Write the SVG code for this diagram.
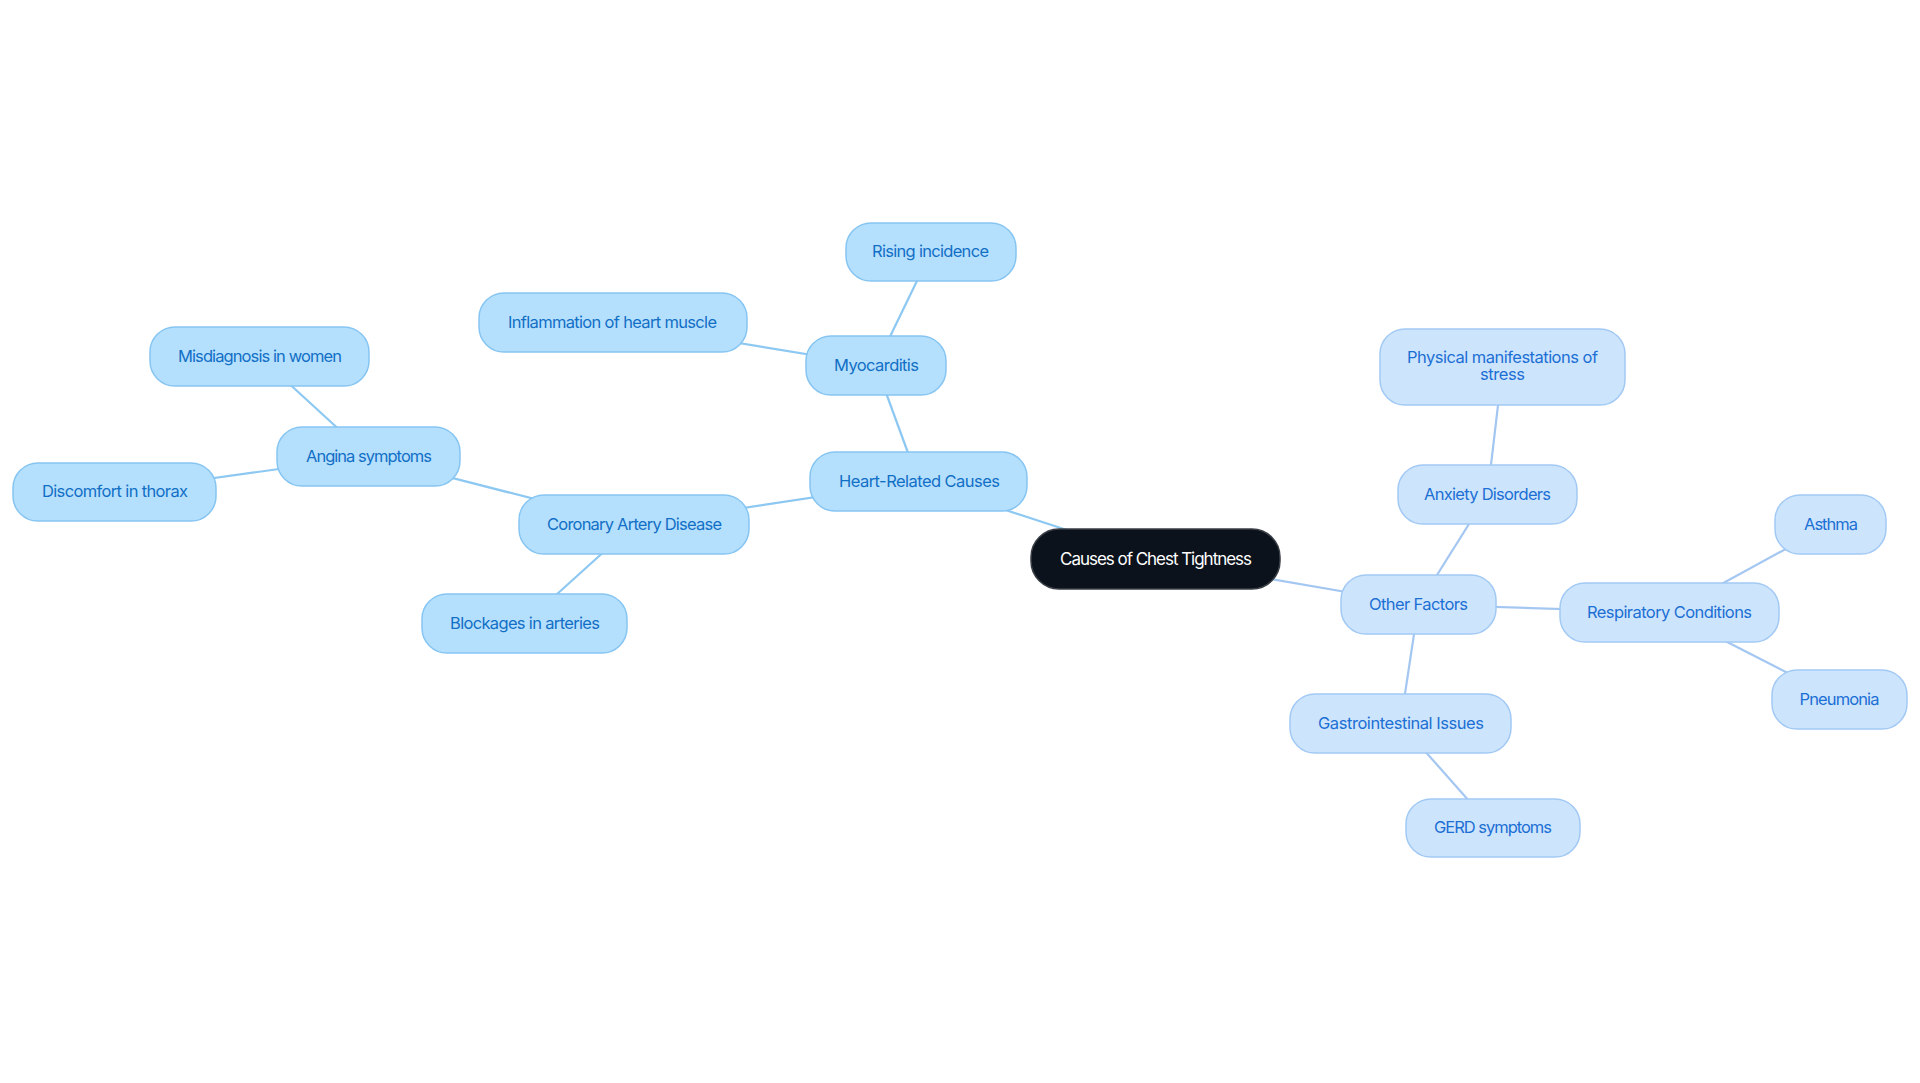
<svg xmlns="http://www.w3.org/2000/svg" width="1920" height="1083" viewBox="0 0 1920 1083">
<style>
.bg{fill:#ffffff}
.l rect{fill:#b5e0fd;stroke:#86c5f2;stroke-width:1.5}
.l text{fill:#126fc6}
.r rect{fill:#cde5fc;stroke:#a2c9f4;stroke-width:1.5}
.r text{fill:#1c6fd4}
.root rect{fill:#0c121c;stroke:#3a3f47;stroke-width:1.5}
.root text{fill:#ffffff}
text{font-family:Inter,"Noto Sans","Liberation Sans",sans-serif;font-size:16.5px;text-anchor:middle}
.root text{font-size:17px}
.el{stroke:#8cc8f2;stroke-width:2.2;fill:none}
.er{stroke:#a4c7f2;stroke-width:2.2;fill:none}
</style>
<rect class="bg" x="0" y="0" width="1920" height="1083"/>
<g id="connectors">
<line class="el" x1="1155.5" y1="559" x2="918.5" y2="481.5"/>
<line class="el" x1="918.5" y1="481.5" x2="876" y2="365.5"/>
<line class="el" x1="876" y1="365.5" x2="931" y2="252"/>
<line class="el" x1="876" y1="365.5" x2="613" y2="322.5"/>
<line class="el" x1="918.5" y1="481.5" x2="634" y2="524.5"/>
<line class="el" x1="634" y1="524.5" x2="524.5" y2="623.5"/>
<line class="el" x1="634" y1="524.5" x2="368.5" y2="456.5"/>
<line class="el" x1="368.5" y1="456.5" x2="259.5" y2="356.5"/>
<line class="el" x1="368.5" y1="456.5" x2="114.5" y2="492"/>
<line class="er" x1="1155.5" y1="559" x2="1418.5" y2="604.5"/>
<line class="er" x1="1418.5" y1="604.5" x2="1487.5" y2="494.5"/>
<line class="er" x1="1487.5" y1="494.5" x2="1502.5" y2="367"/>
<line class="er" x1="1418.5" y1="604.5" x2="1669.5" y2="612.5"/>
<line class="er" x1="1669.5" y1="612.5" x2="1830.5" y2="524.5"/>
<line class="er" x1="1669.5" y1="612.5" x2="1839.5" y2="699.5"/>
<line class="er" x1="1418.5" y1="604.5" x2="1400.5" y2="723.5"/>
<line class="er" x1="1400.5" y1="723.5" x2="1493" y2="828"/>
</g>
<g id="root" class="root"><rect x="1031" y="529" width="249" height="60" rx="28"/><text x="1156" y="564.5" textLength="192" lengthAdjust="spacing">Causes of Chest Tightness</text></g>
<g id="heart" class="l"><rect x="810" y="452" width="217" height="59" rx="25"/><text x="919.5" y="486.5" textLength="161" lengthAdjust="spacing">Heart-Related Causes</text></g>
<g id="myocarditis" class="l"><rect x="806" y="336" width="140" height="59" rx="25"/><text x="876.5" y="370.5" textLength="85" lengthAdjust="spacing">Myocarditis</text></g>
<g id="rising" class="l"><rect x="846" y="223" width="170" height="58" rx="25"/><text x="930.5" y="257" textLength="117" lengthAdjust="spacing">Rising incidence</text></g>
<g id="inflammation" class="l"><rect x="479" y="293" width="268" height="59" rx="25"/><text x="612.5" y="327.5" textLength="209" lengthAdjust="spacing">Inflammation of heart muscle</text></g>
<g id="cad" class="l"><rect x="519" y="495" width="230" height="59" rx="25"/><text x="634.5" y="529.5" textLength="175" lengthAdjust="spacing">Coronary Artery Disease</text></g>
<g id="blockages" class="l"><rect x="422" y="594" width="205" height="59" rx="25"/><text x="525" y="628.5" textLength="150" lengthAdjust="spacing">Blockages in arteries</text></g>
<g id="angina" class="l"><rect x="277" y="427" width="183" height="59" rx="25"/><text x="369" y="461.5" textLength="126" lengthAdjust="spacing">Angina symptoms</text></g>
<g id="misdiagnosis" class="l"><rect x="150" y="327" width="219" height="59" rx="25"/><text x="260" y="361.5" textLength="164" lengthAdjust="spacing">Misdiagnosis in women</text></g>
<g id="discomfort" class="l"><rect x="13" y="463" width="203" height="58" rx="25"/><text x="115" y="497" textLength="146" lengthAdjust="spacing">Discomfort in thorax</text></g>
<g id="other" class="r"><rect x="1341" y="575" width="155" height="59" rx="25"/><text x="1418.5" y="609.5" textLength="99" lengthAdjust="spacing">Other Factors</text></g>
<g id="anxiety" class="r"><rect x="1398" y="465" width="179" height="59" rx="25"/><text x="1487.5" y="499.5" textLength="127" lengthAdjust="spacing">Anxiety Disorders</text></g>
<g id="physical" class="r"><rect x="1380" y="329" width="245" height="76" rx="25"/><text x="1502.5" y="362.5" textLength="191" lengthAdjust="spacing">Physical manifestations of</text><text x="1502.5" y="379.5" textLength="45" lengthAdjust="spacing">stress</text></g>
<g id="respiratory" class="r"><rect x="1560" y="583" width="219" height="59" rx="25"/><text x="1669.5" y="617.5" textLength="165" lengthAdjust="spacing">Respiratory Conditions</text></g>
<g id="asthma" class="r"><rect x="1775" y="495" width="111" height="59" rx="25"/><text x="1831" y="529.5" textLength="54" lengthAdjust="spacing">Asthma</text></g>
<g id="pneumonia" class="r"><rect x="1772" y="670" width="135" height="59" rx="25"/><text x="1839.5" y="704.5" textLength="80" lengthAdjust="spacing">Pneumonia</text></g>
<g id="gastro" class="r"><rect x="1290" y="694" width="221" height="59" rx="25"/><text x="1401" y="728.5" textLength="166" lengthAdjust="spacing">Gastrointestinal Issues</text></g>
<g id="gerd" class="r"><rect x="1406" y="799" width="174" height="58" rx="25"/><text x="1493" y="833" textLength="118" lengthAdjust="spacing">GERD symptoms</text></g>
</svg>
